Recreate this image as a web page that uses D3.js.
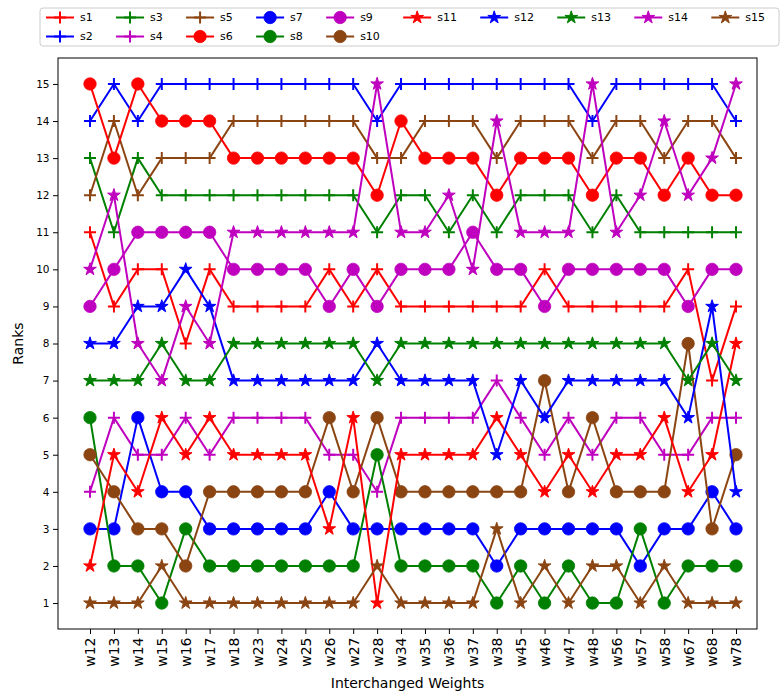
<!DOCTYPE html>
<html>
<head>
<meta charset="utf-8">
<script src="https://cdn.jsdelivr.net/npm/d3@7"></script>
<style>
  body { margin: 0; background: #fff; }
  text { font-family: "DejaVu Sans", sans-serif; }
</style>
</head>
<body>
<svg id="chart" width="784" height="698"></svg>
<script>
// Categories on the x axis
const weights = ["w12","w13","w14","w15","w16","w17","w18","w23","w24","w25","w26","w27","w28",
  "w34","w35","w36","w37","w38","w45","w46","w47","w48","w56","w57","w58","w67","w68","w78"];

// Rank of each series for every interchanged weight pair
const s1  = [11,9,10,10,8,10,9,9,9,9,10,9,10,9,9,9,9,9,9,10,9,9,9,9,9,10,7,9];
const s2  = [14,15,14,15,15,15,15,15,15,15,15,15,14,15,15,15,15,15,15,15,15,14,15,15,15,15,15,14];
const s3  = [13,11,13,12,12,12,12,12,12,12,12,12,11,12,12,11,12,11,12,12,12,11,12,11,11,11,11,11];
const s4  = [4,6,5,5,6,5,6,6,6,6,5,5,4,6,6,6,6,7,6,5,6,5,6,6,5,5,6,6];
const s5  = [12,14,12,13,13,13,14,14,14,14,14,14,13,13,14,14,14,13,14,14,14,13,14,14,13,14,14,13];
const s6  = [15,13,15,14,14,14,13,13,13,13,13,13,12,14,13,13,13,12,13,13,13,12,13,13,12,13,12,12];
const s7  = [3,3,6,4,4,3,3,3,3,3,4,3,3,3,3,3,3,2,3,3,3,3,3,2,3,3,4,3];
const s8  = [6,2,2,1,3,2,2,2,2,2,2,2,5,2,2,2,2,1,2,1,2,1,1,3,1,2,2,2];
const s9  = [9,10,11,11,11,11,10,10,10,10,9,10,9,10,10,10,11,10,10,9,10,10,10,10,10,9,10,10];
const s10 = [5,4,3,3,2,4,4,4,4,4,6,4,6,4,4,4,4,4,4,7,4,6,4,4,4,8,3,5];
const s11 = [2,5,4,6,5,6,5,5,5,5,3,6,1,5,5,5,5,6,5,4,5,4,5,5,6,4,5,8];
const s12 = [8,8,9,9,10,9,7,7,7,7,7,7,8,7,7,7,7,5,7,6,7,7,7,7,7,6,9,4];
const s13 = [7,7,7,8,7,7,8,8,8,8,8,8,7,8,8,8,8,8,8,8,8,8,8,8,8,7,8,7];
const s14 = [10,12,8,7,9,8,11,11,11,11,11,11,15,11,11,12,10,14,11,11,11,15,11,12,14,12,13,15];
const s15 = [1,1,1,2,1,1,1,1,1,1,1,1,2,1,1,1,1,3,1,2,1,2,2,1,2,1,1,1];

const seriesNames = ["s1","s2","s3","s4","s5","s6","s7","s8","s9","s10","s11","s12","s13","s14","s15"];
const seriesValues = [s1,s2,s3,s4,s5,s6,s7,s8,s9,s10,s11,s12,s13,s14,s15];
const rankTicks = d3.range(1, 16);

// Styling: colour cycles every 5 series, marker changes every 5 series
const palette = ["#ff0000", "#0000ff", "#008000", "#bf00bf", "#8b4513"];
const markerKinds = ["plus", "circle", "star"];

const svg = d3.select("#chart");
const frame = { left: 58, right: 757, top: 58, bottom: 629 };

const x = d3.scalePoint().domain(weights).range([90, 736]);
const y = d3.scaleLinear().domain([0.3, 15.7]).range([frame.bottom, frame.top]);

const starPath = d3.symbol().type(d3.symbolStar).size(50)();
const circlePath = d3.symbol().type(d3.symbolCircle).size(Math.PI * 6.2 * 6.2)();
const plusPath = "M-6,0H6M0,-6V6";

function drawMarker(g, kind, color) {
  if (kind === "plus") {
    g.append("path").attr("d", plusPath).attr("fill", "none")
      .attr("stroke", color).attr("stroke-width", 2);
  } else if (kind === "circle") {
    g.append("path").attr("d", circlePath).attr("fill", color)
      .attr("stroke", color).attr("stroke-width", 0.8);
  } else {
    g.append("path").attr("d", starPath).attr("fill", color)
      .attr("stroke", color).attr("stroke-width", 1);
  }
}

// Axes frame
svg.append("rect")
  .attr("x", frame.left).attr("y", frame.top)
  .attr("width", frame.right - frame.left).attr("height", frame.bottom - frame.top)
  .attr("fill", "none").attr("stroke", "#000").attr("stroke-width", 1);

// Series lines with markers
const line = d3.line().x((d, i) => x(weights[i])).y(d => y(d));
seriesNames.forEach((name, si) => {
  const color = palette[si % 5];
  const kind = markerKinds[Math.floor(si / 5)];
  const g = svg.append("g").attr("class", "series " + name);
  g.append("path").datum(seriesValues[si]).attr("d", line)
    .attr("fill", "none").attr("stroke", color).attr("stroke-width", 2)
    .attr("stroke-linejoin", "round");
  seriesValues[si].forEach((v, i) => {
    const m = g.append("g").attr("transform", `translate(${x(weights[i])},${y(v)})`);
    drawMarker(m, kind, color);
  });
});

// Y axis
const yAxis = svg.append("g").attr("transform", `translate(${frame.left},0)`)
  .call(d3.axisLeft(y).tickValues(rankTicks).tickSize(5).tickPadding(3.5).tickFormat(d3.format("d")));
yAxis.select(".domain").remove();
yAxis.selectAll("text").attr("font-size", 10.5).attr("font-family", "DejaVu Sans").attr("fill", "#000");

// X axis with vertical labels
const xAxis = svg.append("g").attr("transform", `translate(0,${frame.bottom})`)
  .call(d3.axisBottom(x).tickSize(5).tickPadding(3.5));
xAxis.select(".domain").remove();
xAxis.selectAll("text")
  .attr("font-size", 14).attr("font-family", "DejaVu Sans").attr("fill", "#000")
  .attr("transform", "rotate(-90)")
  .attr("x", -8.5).attr("y", 0).attr("dy", "0.35em")
  .attr("text-anchor", "end");

// Axis titles
svg.append("text").attr("x", (frame.left + frame.right) / 2).attr("y", 688)
  .attr("text-anchor", "middle").attr("font-size", 14).text("Interchanged Weights");
svg.append("text").attr("transform", `translate(23,${(frame.top + frame.bottom) / 2}) rotate(-90)`)
  .attr("text-anchor", "middle").attr("font-size", 14).text("Ranks");

// Legend: 10 columns, filled column by column
const ncol = 10;
const nrows = Math.ceil(seriesNames.length / ncol);
const fullCols = seriesNames.length % ncol || ncol;
const columns = [];
let idx = 0;
for (let c = 0; c < ncol; c++) {
  const n = c < fullCols ? nrows : nrows - 1;
  columns.push(d3.range(idx, idx + n));
  idx += n;
}

const legend = svg.append("g");
const legendBox = legend.append("rect")
  .attr("x", 40).attr("y", 8).attr("width", 739).attr("height", 38)
  .attr("rx", 3).attr("fill", "#fff").attr("fill-opacity", 0.8)
  .attr("stroke", "#cccccc").attr("stroke-width", 1);

const handleLen = 28, handleGap = 6, colSpacing = 23.3;
const rowY = [17.5, 36.5];
let cx = 46;
columns.forEach(col => {
  let maxW = 0;
  col.forEach((si, r) => {
    const color = palette[si % 5];
    const kind = markerKinds[Math.floor(si / 5)];
    legend.append("line")
      .attr("x1", cx).attr("x2", cx + handleLen).attr("y1", rowY[r]).attr("y2", rowY[r])
      .attr("stroke", color).attr("stroke-width", 2);
    const m = legend.append("g").attr("transform", `translate(${cx + handleLen / 2},${rowY[r]})`);
    drawMarker(m, kind, color);
    const t = legend.append("text")
      .attr("x", cx + handleLen + handleGap).attr("y", rowY[r]).attr("dy", "0.35em")
      .attr("font-size", 11).text(seriesNames[si]);
    maxW = Math.max(maxW, t.node().getComputedTextLength());
  });
  cx += handleLen + handleGap + maxW + colSpacing;
});
</script>
</body>
</html>
